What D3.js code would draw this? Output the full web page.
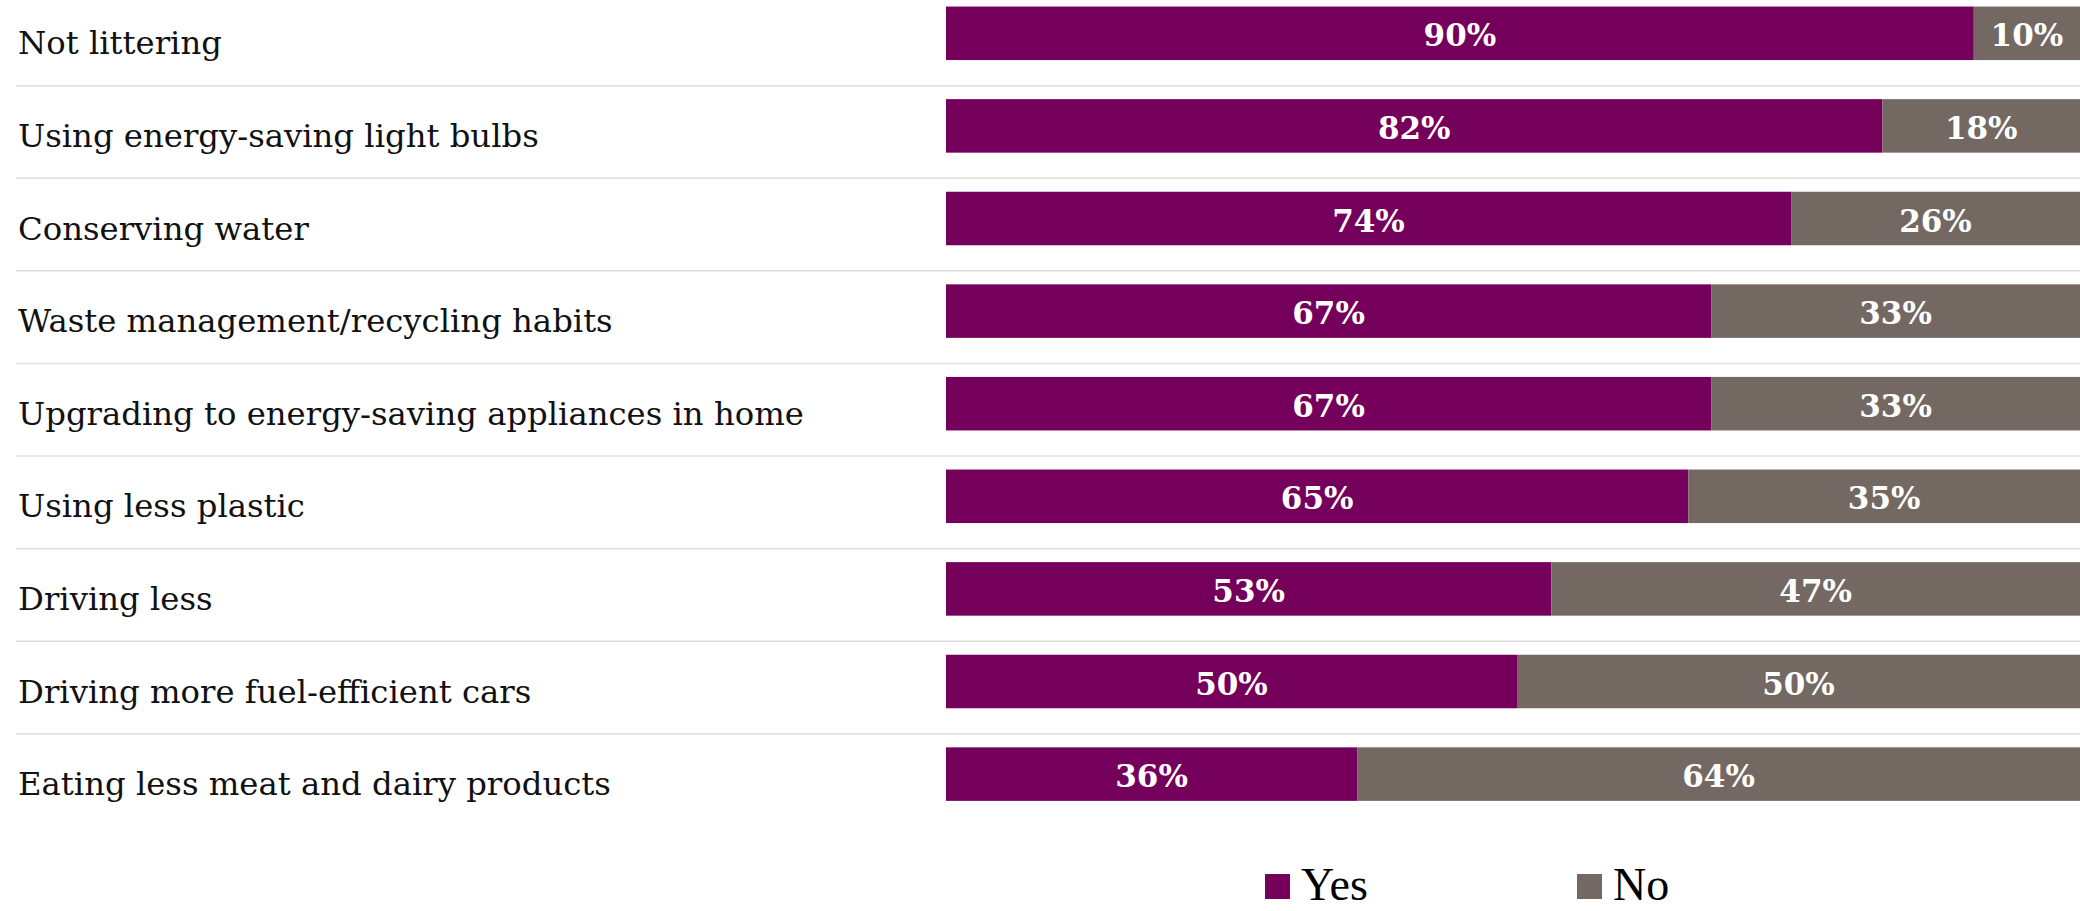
<!DOCTYPE html>
<html>
<head>
<meta charset="utf-8">
<script src="https://cdn.jsdelivr.net/npm/d3@7"></script>
<style>
  body { margin: 0; background: #fff; }
  svg { display: block; }
</style>
</head>
<body>
<div id="chart"></div>
<script>
var width = 2080, height = 911;

// DATA
var categories = ["Not littering", "Using energy-saving light bulbs", "Conserving water",
                  "Waste management/recycling habits", "Upgrading to energy-saving appliances in home",
                  "Using less plastic", "Driving less", "Driving more fuel-efficient cars",
                  "Eating less meat and dairy products"];
var yesValues = [90, 82, 74, 67, 67, 65, 53, 50, 36];
var noValues  = [10, 18, 26, 33, 33, 35, 47, 50, 64];
var seriesNames = ["Yes", "No"];
var colors = ["#75005c", "#736962"];

var svg = d3.select("#chart")
  .append("svg")
  .attr("width", width)
  .attr("height", height);

// the 100% end runs a little past the right edge
var x = d3.scaleLinear()
  .domain([0, 100])
  .range([946, 2088]);

var y = d3.scaleBand()
  .domain(categories)
  .range([-13, 820.4])
  .paddingInner(0.422)
  .paddingOuter(0.211);

var rows = categories.map(function(c, i) {
  return {cat: c, yes: yesValues[i], no: noValues[i]};
});

// separator lines
svg.append("g").selectAll("line")
  .data(categories.slice(1))
  .enter().append("line")
  .attr("x1", 16).attr("x2", width)
  .attr("y1", function(d) { return y(d) - 13.5; })
  .attr("y2", function(d) { return y(d) - 13.5; })
  .style("stroke", "#e2dfda")
  .style("stroke-width", 1.5);

// category labels
svg.append("g").selectAll("text")
  .data(categories)
  .enter().append("text")
  .attr("x", 18)
  .attr("y", function(d) { return y(d) + y.bandwidth() / 2 + 21; })
  .style("font-family", "'DejaVu Serif', serif")
  .style("font-size", "32.3px")
  .style("fill", "#111")
  .text(function(d) { return d; });

// stacked bars
var stack = d3.stack().keys(["yes", "no"]);
var layers = stack(rows);

var g = svg.append("g").selectAll("g")
  .data(layers)
  .enter().append("g")
  .style("fill", function(d, i) { return colors[i]; });

g.selectAll("rect")
  .data(function(d) { return d; })
  .enter().append("rect")
  .attr("x", function(d) { return x(d[0]); })
  .attr("width", function(d) { return x(d[1]) - x(d[0]); })
  .attr("y", function(d) { return y(d.data.cat); })
  .attr("height", y.bandwidth());

g.selectAll("text")
  .data(function(d) { return d; })
  .enter().append("text")
  .attr("x", function(d) { return (x(d[0]) + Math.min(x(d[1]), width)) / 2; })
  .attr("y", function(d) { return y(d.data.cat) + y.bandwidth() / 2 + 13; })
  .attr("text-anchor", "middle")
  .style("font-family", "'DejaVu Serif', serif")
  .style("font-weight", "bold")
  .style("font-size", "31px")
  .style("fill", "#fff")
  .text(function(d) { return (d[1] - d[0]) + "%"; });

// legend (kept just inside the bottom edge)
var legendX = [1265, 1577];
var legend = svg.append("g").selectAll("g")
  .data(seriesNames)
  .enter().append("g")
  .attr("transform", function(d, i) { return "translate(" + legendX[i] + ",874)"; });

legend.append("rect")
  .attr("width", 25).attr("height", 25)
  .style("fill", function(d, i) { return colors[i]; });

legend.append("text")
  .attr("x", 36)
  .attr("y", 26)
  .style("font-family", "'Liberation Serif', serif")
  .style("font-size", "46px")
  .style("fill", "#000")
  .text(function(d) { return d; });
</script>
</body>
</html>
